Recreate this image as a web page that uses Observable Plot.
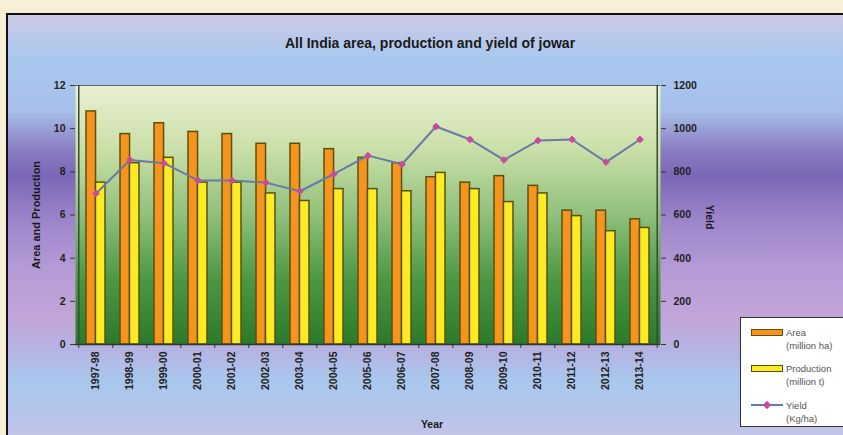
<!DOCTYPE html>
<html><head><meta charset="utf-8">
<script src="https://cdn.jsdelivr.net/npm/d3@7"></script>
<script src="https://cdn.jsdelivr.net/npm/@observablehq/plot@0.6"></script>
<style>
html,body{margin:0;padding:0;}
body{width:843px;height:435px;overflow:hidden;background:#f8efd7;position:relative;font-family:"Liberation Sans",Arial,sans-serif;}
#bg{position:absolute;left:6px;top:13px;width:850px;height:440px;border:2px solid #111;box-sizing:border-box;
background:linear-gradient(to bottom,#cccae6 0%,#a9c8ee 10%,#a8bfe9 22%,#8a7cc2 31%,#7a67b6 37%,#9a82c8 46%,#b59bd6 58%,#c2a6d9 70%,#b4b4e2 77%,#a9c7ee 84%,#b6c4ea 92%,#cbc4e4 100%);}
#chart{position:absolute;left:0;top:0;}
.t{position:absolute;color:#1a1a1a;font-weight:bold;white-space:nowrap;}
#title{left:0;width:860px;text-align:center;top:35px;font-size:14px;}
#ylab{left:36px;top:215px;font-size:11px;transform:translate(-50%,-50%) rotate(-90deg);}
#y2lab{left:710px;top:217px;font-size:10.5px;transform:translate(-50%,-50%) rotate(90deg);}
#xlab{left:432px;top:424px;font-size:10.5px;transform:translate(-50%,-50%);}
#legend{position:absolute;left:740px;top:317px;width:120px;height:110px;border:1.5px solid #333;background:#fff;box-sizing:border-box;font-size:9.5px;color:#555;}
.sw{position:absolute;left:10px;width:30px;height:5px;border:1.2px solid #5c5010;}
.lt{position:absolute;left:45px;line-height:13px;}
</style></head>
<body>
<div id="bg"></div>
<div id="chart"></div>
<div class="t" id="title">All India area, production and yield of jowar</div>
<div class="t" id="ylab">Area and Production</div>
<div class="t" id="y2lab">Yield</div>
<div class="t" id="xlab">Year</div>
<div id="legend">
  <div class="sw" style="top:11px;background:#f7941d"></div>
  <div class="lt" style="top:8px">Area<br>(million ha)</div>
  <div class="sw" style="top:47px;background:#fbeb24"></div>
  <div class="lt" style="top:44px">Production<br>(million t)</div>
  <div style="position:absolute;left:10px;top:86px;width:32px;height:2px;background:#6a7aa8"></div>
  <div style="position:absolute;left:23px;top:84px;width:6px;height:6px;background:#c94a9c;transform:rotate(45deg)"></div>
  <div class="lt" style="top:81px">Yield<br>(Kg/ha)</div>
</div>
<script>
const years = ["1997-98","1998-99","1999-00","2000-01","2001-02","2002-03","2003-04","2004-05","2005-06","2006-07","2007-08","2008-09","2009-10","2010-11","2011-12","2012-13","2013-14"];
const area = [10.8, 9.75, 10.25, 9.85, 9.75, 9.3, 9.3, 9.05, 8.65, 8.4, 7.75, 7.5, 7.8, 7.35, 6.2, 6.2, 5.8];
const production = [7.5, 8.4, 8.65, 7.5, 7.5, 7.0, 6.65, 7.2, 7.2, 7.1, 7.95, 7.2, 6.6, 7.0, 5.95, 5.25, 5.4];
const yieldKg = [700, 855, 840, 760, 760, 750, 710, 790, 875, 835, 1010, 950, 855, 945, 950, 845, 950];
const leftTicks = [0, 2, 4, 6, 8, 10, 12];

const data = years.map((y, i) => ({year: y, area: area[i], production: production[i], yld: yieldKg[i]}));

const W = 843, H = 435, mL = 75, mR = 183, mT = 85, mB = 91;
const step = (W - mL - mR) / years.length;
const half = step * 0.55 / 2;
const frameH = H - mT - mB;

const plot = Plot.plot({
  width: W, height: H,
  marginLeft: mL, marginRight: mR, marginTop: mT, marginBottom: mB,
  style: {background: "transparent", fontFamily: "'Liberation Sans', Arial, sans-serif", fontSize: "10.5px", fontWeight: "bold", color: "#222"},
  x: {domain: years, paddingInner: 0.45, paddingOuter: 0.225, label: null},
  y: {domain: [0, 12], label: null},
  marks: [
    Plot.frame({fill: "url(#plotGrad)", stroke: null}),
    Plot.barY(data, {x: "year", y: "area", insetRight: half, fill: "#f7941d", stroke: "#5c5010", strokeWidth: 1.5}),
    Plot.barY(data, {x: "year", y: "production", insetLeft: half, fill: "#fbeb24", stroke: "#5c5010", strokeWidth: 1.5}),
    Plot.line(data, {x: "year", y: d => d.yld / 100, stroke: "#6a7aa8", strokeWidth: 2}),
    Plot.dot(data, {x: "year", y: d => d.yld / 100, symbol: "diamond2", r: 3, fill: "#c94a9c", stroke: "#c94a9c", strokeWidth: 1}),
    Plot.ruleY([12], {stroke: "#5a6a6a", strokeWidth: 1.2}),
    Plot.ruleY([0], {stroke: "#2a3a2a", strokeWidth: 1.5}),
    Plot.ruleX(years, {x: d => d, dx: -step / 2, insetTop: frameH, insetBottom: -4, stroke: "#333"}),
    Plot.ruleX(years.slice(-1), {x: d => d, dx: step / 2, insetTop: frameH, insetBottom: -4, stroke: "#333"}),
    Plot.axisY({anchor: "left", ticks: leftTicks, tickSize: 5, tickPadding: 5, stroke: "#333", fill: "#222", label: null}),
    Plot.axisY({anchor: "right", ticks: leftTicks, tickFormat: d => String(d * 100), tickSize: 5, tickPadding: 8, stroke: "#333", fill: "#222", label: null}),
    Plot.axisX({tickRotate: -90, tickSize: 0, tickPadding: 7, fill: "#222", label: null}),
    Plot.ruleX([years[0]], {dx: -step / 2, stroke: "#3a4a3a", strokeWidth: 1.5}),
    Plot.ruleX([years[years.length - 1]], {dx: step / 2, stroke: "#3a4a3a", strokeWidth: 1.5})
  ]
});

const ns = "http://www.w3.org/2000/svg";
const defs = document.createElementNS(ns, "defs");
defs.innerHTML = `<linearGradient id="plotGrad" x1="0" y1="0" x2="0" y2="1">
  <stop offset="0%" stop-color="#eaf0d2"/>
  <stop offset="25%" stop-color="#c9dfa8"/>
  <stop offset="50%" stop-color="#90c07c"/>
  <stop offset="75%" stop-color="#4c9744"/>
  <stop offset="100%" stop-color="#2a7a2b"/>
</linearGradient>`;
plot.insertBefore(defs, plot.firstChild);
document.getElementById("chart").appendChild(plot);
</script>
</body></html>
